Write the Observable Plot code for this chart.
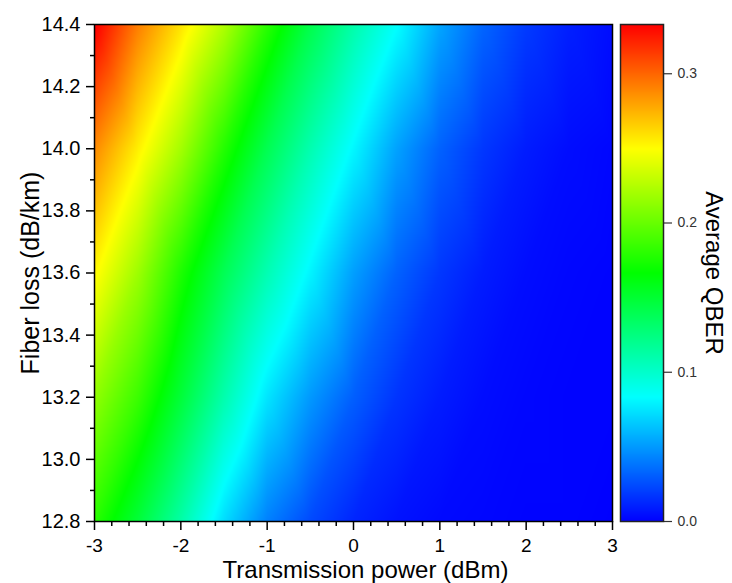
<!DOCTYPE html>
<html>
<head>
<meta charset="utf-8">
<script src="https://cdn.jsdelivr.net/npm/d3@7"></script>
<script src="https://cdn.jsdelivr.net/npm/@observablehq/plot@0.6"></script>
<style>
  html, body { margin: 0; padding: 0; background: #fff; }
  #chart { position: relative; width: 732px; height: 583px; overflow: hidden; background: #fff; }
  #main { position: absolute; left: 0; top: 0; z-index: 2; }
  #bar { position: absolute; left: 615px; top: 0; z-index: 1; }
</style>
</head>
<body>
<div id="chart"><div id="main"></div><div id="bar"></div></div>
<script>
// Transmission power (dBm) columns
const power = [-3, -2.5, -2, -1.5, -1, -0.5, 0, 0.5, 1, 1.5, 2, 2.5, 3];
// Fiber loss (dB/km) rows
const fiberLoss = [14.4, 14.0, 13.6, 13.2, 12.8];
// Average QBER, one array per fiber-loss row
const qber144 = [0.335, 0.292, 0.259, 0.224, 0.180, 0.142, 0.111, 0.084, 0.054, 0.033, 0.019, 0.010, 0.004];
const qber140 = [0.288, 0.255, 0.220, 0.178, 0.140, 0.109, 0.081, 0.053, 0.032, 0.018, 0.009, 0.004, 0.002];
const qber136 = [0.252, 0.218, 0.176, 0.139, 0.108, 0.080, 0.052, 0.032, 0.018, 0.009, 0.004, 0.002, 0.001];
const qber132 = [0.214, 0.186, 0.148, 0.110, 0.075, 0.050, 0.031, 0.017, 0.009, 0.004, 0.002, 0.001, 0.001];
const qber128 = [0.180, 0.148, 0.112, 0.072, 0.042, 0.024, 0.012, 0.006, 0.003, 0.002, 0.001, 0.001, 0.000];

// Tick labels
const xMajorTicks = [-3, -2, -1, 0, 1, 2, 3];
const xMinorTicks = [-2.8, -2.6, -2.4, -2.2, -1.8, -1.6, -1.4, -1.2, -0.8, -0.6, -0.4, -0.2, 0.2, 0.4, 0.6, 0.8, 1.2, 1.4, 1.6, 1.8, 2.2, 2.4, 2.6, 2.8];
const yMajorTicks = [12.8, 13.0, 13.2, 13.4, 13.6, 13.8, 14.0, 14.2, 14.4];
const yMinorTicks = [12.9, 13.1, 13.3, 13.5, 13.7, 13.9, 14.1, 14.3];
const colorTicks = [0, 0.1, 0.2, 0.3];
const colorDomain = [0, 0.333];
const colorStops = ["#0000ff", "#00ffff", "#00ff00", "#ffff00", "#ff0000"];

const rows = [qber144, qber140, qber136, qber132, qber128];
const points = [];
fiberLoss.forEach((fl, i) => power.forEach((p, j) => points.push({x: p, y: fl, v: rows[i][j]})));

const font = "'Liberation Sans', Arial, Helvetica, sans-serif";
const colorScale = {type: "linear", domain: colorDomain, range: colorStops, interpolate: "rgb", clamp: true};

const main = Plot.plot({
  width: 615, height: 583,
  marginLeft: 94, marginRight: 3, marginTop: 24, marginBottom: 62,
  style: {fontFamily: font, background: "none", color: "black", overflow: "visible"},
  x: {domain: [-3, 3], axis: null},
  y: {domain: [12.8, 14.4], axis: null},
  color: colorScale,
  marks: [
    Plot.raster(points, {x: "x", y: "y", fill: "v", interpolate: "barycentric", x1: -3, x2: 3, y1: 12.8, y2: 14.4}),
    Plot.axisX({ticks: xMinorTicks, tickSize: 5, tickFormat: () => "", strokeWidth: 1.5, label: null}),
    Plot.axisX({ticks: xMajorTicks, tickSize: 9, tickFormat: () => "", strokeWidth: 1.5, label: null}),
    Plot.axisY({ticks: yMinorTicks, tickSize: 4, tickFormat: () => "", strokeWidth: 1.5, label: null}),
    Plot.axisY({ticks: yMajorTicks, tickSize: 8, tickFormat: () => "", strokeWidth: 1.5, label: null}),
    Plot.text(xMajorTicks, {x: d => d, frameAnchor: "bottom", dy: 24, text: d => String(d), fontSize: 19, textAnchor: "middle", lineAnchor: "middle"}),
    Plot.text(yMajorTicks, {y: d => d, frameAnchor: "left", dx: -14, text: d => d3.format(".1f")(d), fontSize: 20, textAnchor: "end", lineAnchor: "middle"}),
    Plot.frame({stroke: "black", strokeWidth: 1.5}),
    Plot.text(["Fiber loss (dB/km)"], {frameAnchor: "left", dx: -64, rotate: -90, fontSize: 25, textAnchor: "middle", lineAnchor: "middle"}),
    Plot.text(["Transmission power (dBm)"], {frameAnchor: "bottom", dx: 12, dy: 49, fontSize: 24, textAnchor: "middle", lineAnchor: "middle"})
  ]
});
document.getElementById("main").appendChild(main);

const bar = Plot.plot({
  width: 117, height: 583,
  marginLeft: 5, marginRight: 69, marginTop: 24, marginBottom: 62,
  style: {fontFamily: font, background: "none", color: "#333", overflow: "visible"},
  x: {domain: [0, 1], axis: null},
  y: {domain: colorDomain, axis: null},
  color: colorScale,
  marks: [
    Plot.raster({x1: 0, x2: 1, y1: colorDomain[0], y2: colorDomain[1], fill: (x, y) => y}),
    Plot.axisY({anchor: "right", ticks: colorTicks, tickSize: 8, tickPadding: 6, tickFormat: d3.format(".1f"), fontSize: 14, strokeWidth: 1.2, label: null}),
    Plot.frame({stroke: "#222", strokeWidth: 1.5}),
    Plot.text(["Average QBER"], {frameAnchor: "right", dx: 50, rotate: 90, fontSize: 24, fill: "black", textAnchor: "middle", lineAnchor: "middle"})
  ]
});
document.getElementById("bar").appendChild(bar);
</script>
</body>
</html>
